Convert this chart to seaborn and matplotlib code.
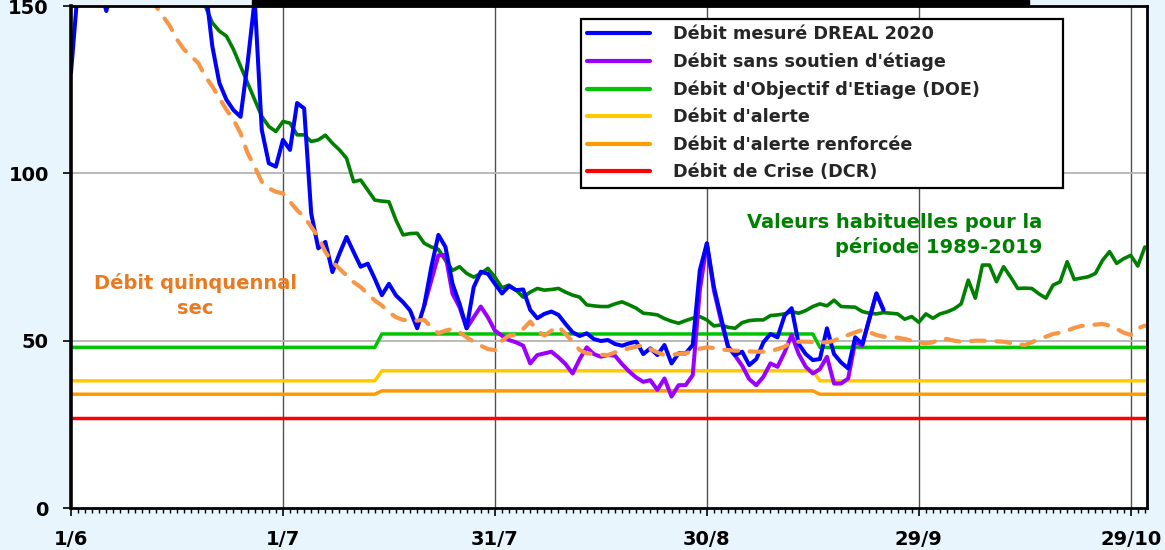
import matplotlib
matplotlib.use("Agg")
import matplotlib.pyplot as plt
from matplotlib.ticker import MultipleLocator, FixedLocator
from matplotlib.patches import Rectangle
import seaborn as sns
import pandas as pd

# ---------------- data (x = days since 1 June) ----------------
tick_days = [0, 30, 60, 90, 120, 150]
tick_labels = ["1/6", "1/7", "31/7", "30/8", "29/9", "29/10"]

mesure_days = list(range(0, 116))
mesure_vals = [130, 156, 165, 162, 156, 148.5, 158, 168, 175, 178,
               176, 172, 170, 168, 166, 164, 163, 165, 162, 156,
               138, 127, 122, 118.9, 116.9, 133, 152, 113, 103, 102,
               110, 107, 121, 119.4, 88, 77.6, 79.5, 70.5, 76, 81,
               76.5, 72.1, 73, 68.5, 63.6, 67, 63.5, 61.5, 59, 53.7,
               60.5, 72, 81.6, 78, 67, 61, 53.7, 66, 70.6, 70,
               67, 64.1, 66.3, 65.1, 65.3, 59.2, 56.7, 58, 58.7, 57.7,
               55, 52.5, 51.4, 52.2, 50.5, 49.9, 50.2, 49, 48.5, 49.2,
               49.7, 46, 47.7, 45.7, 48.7, 43.2, 46.2, 46.2, 48.7, 71,
               79.1, 66, 57, 48.2, 45.7, 46.7, 42.7, 44.5, 49.5, 52,
               51, 57.5, 59.7, 49, 46, 44.2, 44.5, 53.7, 46, 43.5,
               41.7, 51, 49, 56.5, 64.1, 59.2]

sans_soutien_days = list(range(50, 116))
sans_soutien_vals = [60.5, 68, 75.5, 75.6, 64, 60, 53.7, 57, 60.2, 57,
                     53, 51.5, 50.2, 49.5, 48.5, 43.2, 45.7, 46.2, 46.7, 45,
                     43, 40.2, 44.5, 48, 46, 45.2, 45.7, 45.5, 43, 40.8,
                     39, 37.7, 38.2, 35.3, 38.7, 33.3, 36.7, 36.7, 39.7, 65,
                     79, 65, 56, 48.2, 45.5, 42.5, 38.5, 36.7, 39.2, 43.2,
                     42.2, 46.5, 51.7, 46, 42.2, 40.2, 41.5, 45.2, 37.2, 37.2,
                     38.7, 49.7, 48.5, 56.5, 64.1, 59.2]

habituel_days = list(range(0, 153))
habituel_vals = [235, 232, 228, 225, 222, 218, 214, 210, 205, 200,
                 196, 191, 186, 180, 175, 170, 165, 160, 155, 150,
                 145, 142.5, 141, 137, 132, 127, 122, 117, 114, 112.5,
                 115.5, 115, 111.5, 111.5, 109.5, 110, 111.4, 109, 107, 104.5,
                 97.5, 98, 95, 92, 91.7, 91.5, 86, 81.6, 82, 82.1,
                 79.1, 78, 77.3, 74, 71, 72.1, 70.1, 69, 70, 71.6,
                 69, 65.8, 66.6, 65.1, 63, 64.5, 65.6, 65.1, 65.3, 65.6,
                 64.5, 63.6, 63, 60.7, 60.4, 60.2, 60.2, 61, 61.6, 60.7,
                 59.7, 58.2, 58, 57.7, 56.6, 55.8, 55.2, 56, 56.7, 57.2,
                 56.2, 54.4, 54.7, 54, 53.7, 55.4, 56, 56.2, 56.2, 57.5,
                 57.7, 58, 58.7, 58.2, 59, 60.2, 61, 60.4, 62.1, 60.2,
                 60.1, 60, 58.7, 58.2, 58, 58.4, 58.2, 58, 56.4, 57.2,
                 55.5, 58, 56.7, 58, 58.6, 59.5, 61, 68.1, 62.7, 72.6,
                 72.6, 67.6, 72.1, 69, 65.6, 65.7, 65.6, 64, 62.7, 66.6,
                 67.6, 73.6, 68.3, 68.7, 69.1, 70.1, 74, 76.6, 73.1, 74.5,
                 75.5, 72.3, 78]

quinq_days = [0, 6, 11] + list(range(12, 153))
quinq_vals = [200, 175, 152,
              150, 147, 144, 140, 137, 135, 133, 129, 126, 122.5,
              119, 116, 112, 106, 102, 97.5, 95.5, 94.5, 94, 91.5,
              89, 87, 84, 81, 76.5, 73.5, 71.5, 69.5, 67.5, 66,
              64, 62, 60.5, 58.5, 57, 56.2, 56, 56, 56.2, 54,
              52.2, 53, 53.5, 52.5, 51, 49.7, 48.5, 47.5, 47.2, 50,
              51.5, 51.7, 53.5, 55.7, 53, 51.5, 53, 54.2, 52, 49.7,
              47.2, 46.2, 46, 45.8, 45.7, 46.5, 47.2, 47.7, 48.2, 48.7,
              47.5, 46.5, 45.7, 45.8, 46, 46.2, 47, 47.6, 48, 47.8,
              47.4, 47.2, 47, 47, 46.8, 46.7, 46.7, 46.8, 47.5, 48.2,
              49.7, 49.7, 49.7, 49.6, 49.5, 49.5, 50, 51, 51.7, 52.5,
              53.2, 52.5, 51.7, 51.2, 51, 50.9, 50.5, 50, 49.5, 49.2,
              49.5, 50.5, 50.5, 50, 49.7, 49.8, 50, 50, 49.9, 49.8,
              49.7, 49.3, 49, 48.7, 49.5, 50.5, 51.2, 52, 52.4, 53,
              53.8, 54.4, 54.6, 54.8, 55, 54.5, 53.5, 52.4, 51.7, 53.7,
              54.5]

seuil_days = [0, 43, 44, 105, 106, 152]
doe_vals = [48, 48, 52, 52, 48, 48]
alerte_vals = [38, 38, 41, 41, 38, 38]
renforcee_vals = [34, 34, 35, 35, 34, 34]
crise_days = [0, 152]
crise_vals = [27, 27]

# ---------------- figure ----------------
sns.set_style("white")
plt.rcParams["font.family"] = ["DejaVu Sans"]

fig = plt.figure(figsize=(11.65, 5.5), dpi=100)
fig.patch.set_facecolor("#E9F5FD")
ax = fig.add_axes([71 / 1165, 1 - 508 / 550, (1147 - 71) / 1165, (508 - 6) / 550])
ax.set_facecolor("white")

def draw(days, vals, **kw):
    df = pd.DataFrame({"jour": days, "debit": vals})
    sns.lineplot(data=df, x="jour", y="debit", ax=ax, estimator=None,
                 sort=False, **kw)
    return ax.get_lines()[-1]

h_doe = draw(seuil_days, doe_vals, color="#00C400", lw=2.5, label="Débit d'Objectif d'Etiage (DOE)")
h_al = draw(seuil_days, alerte_vals, color="#FFC800", lw=2.5, label="Débit d'alerte")
h_ren = draw(seuil_days, renforcee_vals, color="#FF9A00", lw=2.5, label="Débit d'alerte renforcée")
h_cr = draw(crise_days, crise_vals, color="#FF0000", lw=2.5, label="Débit de Crise (DCR)")
draw(habituel_days, habituel_vals, color="#008000", lw=2.6)
h_ss = draw(sans_soutien_days, sans_soutien_vals, color="#9B00FF", lw=2.9,
            label="Débit sans soutien d'étiage")
h_me = draw(mesure_days, mesure_vals, color="#0000FF", lw=2.9,
            label="Débit mesuré DREAL 2020")
hq = draw(quinq_days, quinq_vals, color="#F79646", lw=3.0)
hq.set_dashes((3.3, 2.8))
hq.set_dash_capstyle("round")

ax.set_xlim(0, 152.3)
ax.set_ylim(0, 150)
ax.set_xlabel("")
ax.set_ylabel("")

ax.xaxis.set_major_locator(FixedLocator(tick_days))
ax.set_xticklabels(tick_labels)
ax.xaxis.set_minor_locator(MultipleLocator(1))
ax.yaxis.set_major_locator(FixedLocator([0, 50, 100, 150]))

ax.tick_params(axis="x", which="major", direction="out", length=6, width=1.2,
               color="black", pad=9.5, labelsize=14, bottom=True)
ax.tick_params(axis="x", which="minor", direction="out", length=3.5, width=1,
               color="black", bottom=True)
ax.tick_params(axis="y", which="major", direction="out", length=6, width=1.2,
               color="black", pad=10, labelsize=14, left=True)
for lab in ax.get_xticklabels() + ax.get_yticklabels():
    lab.set_fontweight("bold")
    lab.set_color("black")

ax.grid(False)
for d in tick_days[1:]:
    ax.axvline(d, color="#505050", lw=1.0, zorder=0.5)
for v in [50, 100]:
    ax.axhline(v, color="#B4B4B4", lw=1.3, zorder=0.5)

for s in ["top", "right", "bottom"]:
    ax.spines[s].set_visible(True)
    ax.spines[s].set_color("black")
    ax.spines[s].set_linewidth(2.0)
ax.spines["left"].set_visible(True)
ax.spines["left"].set_color("black")
ax.spines["left"].set_linewidth(2.6)

# annotations
ax.text(17.6, 63.5, "Débit quinquennal\nsec", color="#E97A22", fontsize=14,
        fontweight="bold", ha="center", va="center", linespacing=1.35)
ax.text(137.5, 81.5, "Valeurs habituelles pour la\npériode 1989-2019", color="#008000",
        fontsize=14, fontweight="bold", ha="right", va="center", linespacing=1.3)

# legend box (wider than its content, as in the original)
box = Rectangle((0.474, 0.638), 0.922 - 0.474, 0.974 - 0.638, transform=ax.transAxes,
                facecolor="white", edgecolor="black", lw=1.6, zorder=4.9)
ax.add_patch(box)

handles = [h_me, h_ss, h_doe, h_al, h_ren, h_cr]
labels = [h.get_label() for h in handles]
leg = ax.legend(handles, labels, loc="upper left", bbox_to_anchor=(0.474, 0.974),
                frameon=False,
                prop={"family": "DejaVu Sans", "weight": "bold", "size": 12.7},
                handlelength=3.6, handletextpad=1.3, labelspacing=0.54,
                borderpad=0.33, borderaxespad=0)
leg.set_zorder(5)
for line in leg.get_lines():
    line.set_linewidth(3.0)

# top black bar (bottom of a title box)
fig.patches.append(Rectangle((252 / 1165, 1 - 6 / 550), (1029 - 252) / 1165, 6 / 550,
                             transform=fig.transFigure, color="black", zorder=5))

fig.savefig("out.png", dpi=100, facecolor=fig.get_facecolor())
